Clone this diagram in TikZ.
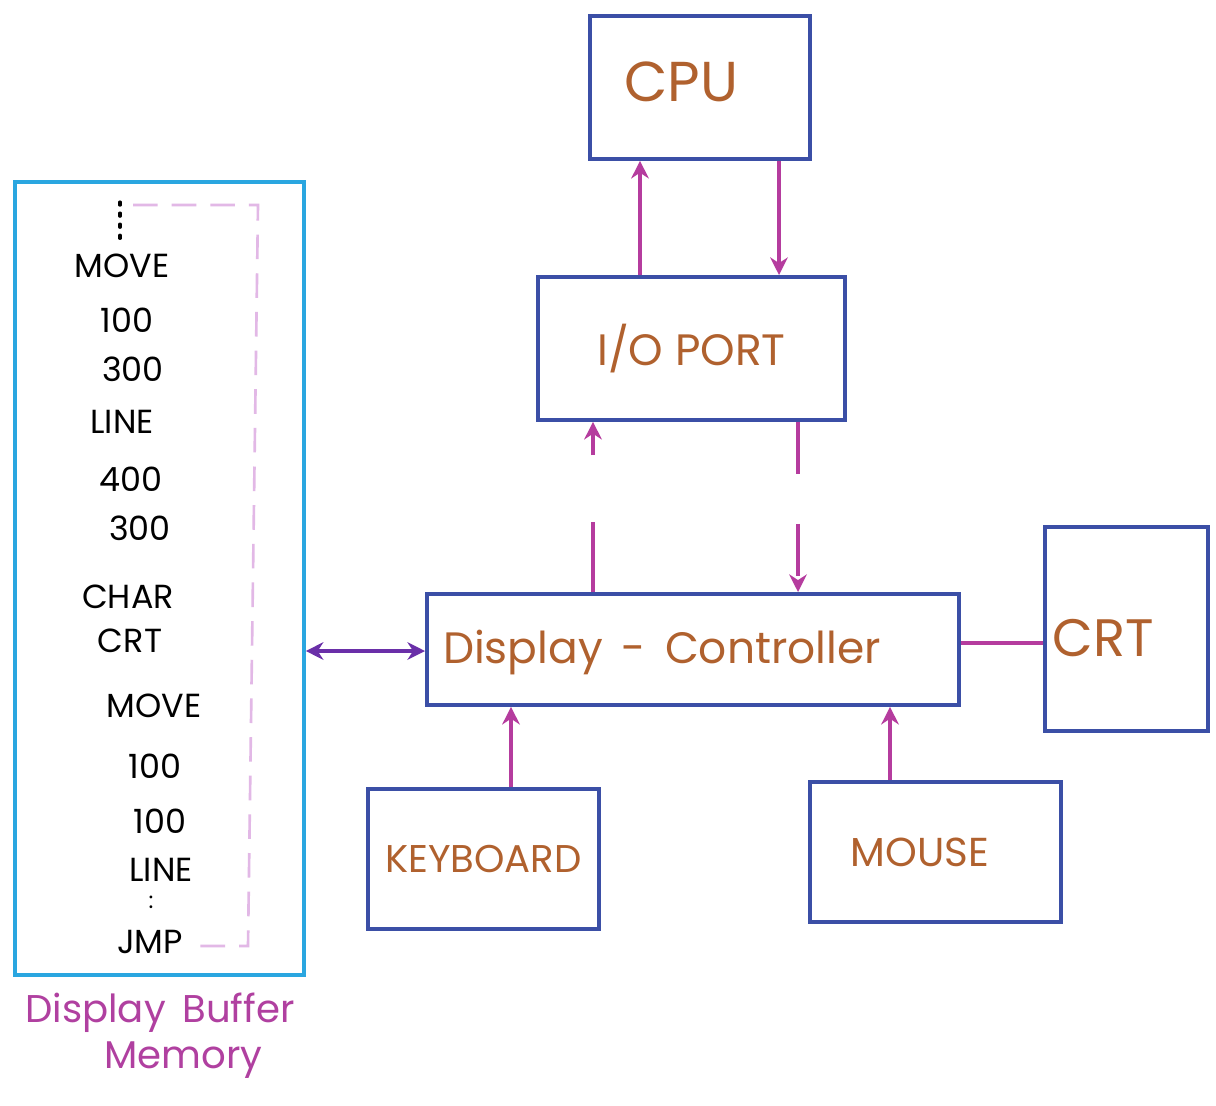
\documentclass[tikz,border=0pt]{standalone}
\usepackage{fontspec}
\setmainfont{Poppins}
\usetikzlibrary{arrows.meta}
\definecolor{boxblue}{HTML}{3B4FA6}
\definecolor{memcyan}{HTML}{2AA6E0}
\definecolor{arrmag}{HTML}{B53C9E}
\definecolor{arrpur}{HTML}{6A2FA8}
\definecolor{txtbrown}{HTML}{B0612E}
\definecolor{lblmag}{HTML}{B040A0}
\definecolor{dashpink}{HTML}{E2B8E6}
\begin{document}
\begin{tikzpicture}[x=0.02cm,y=-0.02cm,
  blk/.style={draw=boxblue,line width=2.2pt,anchor=north west,inner sep=0pt,
     text=txtbrown},
  memtxt/.style={text=black,font=\fontsize{19}{20}\selectfont,inner sep=0pt},
  conn/.style={draw=arrmag,line width=2.2pt,-{Stealth[length=10pt,width=10pt]}},
]
\useasboundingbox[fill=white] (0,0) rectangle (1216,1105);

% boxes
\node[blk,minimum width=4.4cm,minimum height=2.86cm] (cpu) at (588,14) {};
\node[text=txtbrown,font=\fontsize{32}{34}\selectfont,inner sep=0pt] (cputext) at (681,82) {CPU};
\node[blk,minimum width=6.14cm,minimum height=2.86cm,font=\fontsize{25}{27}\selectfont] (io) at (536,275) {I/O PORT};
\node[blk,minimum width=10.64cm,minimum height=2.22cm] (dc) at (425,592) {};
\node[text=txtbrown,font=\fontsize{25}{26}\selectfont,inner sep=0pt] (dctext) at (662,652) {Display\, -\, Controller};
\node[blk,minimum width=3.26cm,minimum height=4.08cm] (crt) at (1043,525) {};
\node[text=txtbrown,font=\fontsize{30}{32}\selectfont,inner sep=0pt] (crttext) at (1103,638) {CRT};
\node[blk,minimum width=4.62cm,minimum height=2.8cm,font=\fontsize{22}{24}\selectfont] (kbd) at (366,787) {KEYBOARD};
\node[blk,minimum width=5.02cm,minimum height=2.8cm] (mouse) at (808,780) {};
\node[text=txtbrown,font=\fontsize{23}{24}\selectfont,inner sep=0pt] (mousetext) at (920,852) {MOUSE};
\node[draw=memcyan,line width=2.2pt,anchor=north west,minimum width=5.78cm,minimum height=15.86cm,inner sep=0pt] (mem) at (13,180) {};

% memory contents
\draw[dashpink,line width=1.5pt,dash pattern=on 14pt off 8pt] (133,205) -- (258,205) -- (248,946) -- (198,946);
\draw[black,line width=1.8pt,dash pattern=on 1.8pt off 4.5pt,line cap=round] (120,202) -- (120,246);
\node[memtxt] (m1) at (122,266) {MOVE};
\node[memtxt] (m2) at (127,320) {100};
\node[memtxt] (m3) at (133,369) {300};
\node[memtxt] (m4) at (122,422) {LINE};
\node[memtxt] (m5) at (131,479) {400};
\node[memtxt] (m6) at (140,528) {300};
\node[memtxt] (m7) at (128,597) {CHAR};
\node[memtxt] (m8) at (130,641) {CRT};
\node[memtxt] (m9) at (154,706) {MOVE};
\node[memtxt] (m10) at (155,766) {100};
\node[memtxt] (m11) at (160,821) {100};
\node[memtxt] (m12) at (161,870) {LINE};
\node[memtxt,font=\fontsize{13}{14}\selectfont] (m13) at (151,902) {:};
\node[memtxt] (m14) at (150,942) {JMP};
\node[text=lblmag,font=\fontsize{22}{26}\selectfont,align=center,inner sep=0pt] (memlbl) at (160,1036) {Display\, Buffer\\\hspace*{1.2em}Memory};

% connectors
\draw[conn] (io.north -| 640,0) -- (cpu.south -| 640,0);
\draw[conn] (cpu.south -| 779,0) -- (io.north -| 779,0);
\draw[conn,dash pattern=on 1.4cm off 1.34cm] (dc.north -| 593,0) -- (io.south -| 593,0);
\draw[conn,dash pattern=on 1.04cm off 1.0cm] (io.south -| 798,0) -- (dc.north -| 798,0);
\draw[draw=arrpur,line width=2.2pt,{Stealth[length=10pt,width=10pt]}-{Stealth[length=10pt,width=10pt]}] (mem.east |- 0,651) -- (dc.west |- 0,651);
\draw[draw=arrmag,line width=2.6pt] (dc.east |- 0,643) -- (crt.west |- 0,643);
\draw[conn] (kbd.north -| 511,0) -- (dc.south -| 511,0);
\draw[conn] (mouse.north -| 890,0) -- (dc.south -| 890,0);
\end{tikzpicture}
\end{document}
